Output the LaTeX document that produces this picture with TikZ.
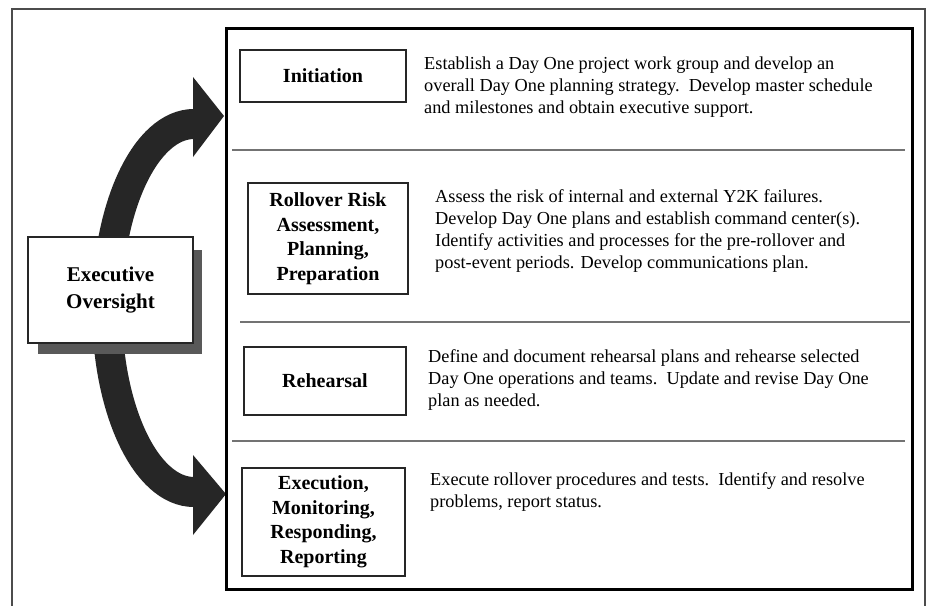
\documentclass[tikz,border=0pt]{standalone}
\usepackage{fontspec}
\setmainfont{Liberation Serif}
\begin{document}
\begin{tikzpicture}[x=1pt,y=-1pt,
  stagebox/.style={draw=black!85,line width=1.4pt,fill=white,inner sep=0pt,align=center,
    font=\fontsize{20}{24.5}\selectfont\bfseries},
  desc/.style={anchor=west,inner sep=0pt,align=left,font=\fontsize{18.3}{22}\selectfont},
  divider/.style={draw=black!55,line width=1.3pt},
  bigarrow/.style={draw=black!85,line width=30pt},
  arrowhead/.style={fill=black!85,draw=none}]
\useasboundingbox (0,0) rectangle (928,605);
\fill[white] (0,0) rectangle (928,605);
% outer frame (bottom edge cropped)
\draw[black!70,line width=1.5pt] (12,620) -- (12,9) -- (925,9) -- (925,620);
% curved arrows
\draw[bigarrow] (194,124) arc[start angle=270,end angle=90,x radius=87,y radius=184];
\coordinate (tipA) at (224,116);
\coordinate (tipB) at (226,494);
\fill[arrowhead] (193,77) -- (tipA) -- (193,157) -- cycle;
\fill[arrowhead] (193,455) -- (tipB) -- (193,535) -- cycle;
% inner box
\node[draw=black,line width=3pt,minimum width=686pt,minimum height=561pt,anchor=north west,inner sep=0pt] (frame) at (225,27) {};
% dividers
\draw[divider] (232,150) -- (905,150);
\draw[divider] (240,322) -- (910,322);
\draw[divider] (232,441) -- (905,441);
% executive oversight
\fill[black!65] (38,250) rectangle (202,354);
\node[stagebox,minimum width=165pt,minimum height=106pt,font=\fontsize{21}{27}\selectfont\bfseries] (exec) at (110.5,290) {Executive\\Oversight};
% stage boxes
\node[stagebox,minimum width=166pt,minimum height=52pt] (init) at (323,76) {Initiation};
\node[stagebox,minimum width=160pt,minimum height=111pt] (roll) at (328,238.5) {Rollover Risk\\Assessment,\\Planning,\\Preparation};
\node[stagebox,minimum width=162pt,minimum height=68pt] (reh) at (325,381) {Rehearsal};
\node[stagebox,minimum width=163pt,minimum height=108pt] (exe) at (323.5,522) {Execution,\\Monitoring,\\Responding,\\Reporting};
% descriptions
\node[desc] (dinit) at (424,87) {Establish a Day One project work group and develop an\\overall Day One planning strategy.\ \ Develop master schedule\\and milestones and obtain executive support.};
\node[desc] (droll) at (435,231.5) {Assess the risk of internal and external Y2K failures.\\Develop Day One plans and establish command center(s).\\Identify activities and processes for the pre-rollover and\\post-event periods. Develop communications plan.};
\node[desc] (dreh) at (428,380) {Define and document rehearsal plans and rehearse selected\\Day One operations and teams.\ \ Update and revise Day One\\plan as needed.};
\node[desc] (dexe) at (430,492) {Execute rollover procedures and tests.\ \ Identify and resolve\\problems, report status.};
\end{tikzpicture}
\end{document}
